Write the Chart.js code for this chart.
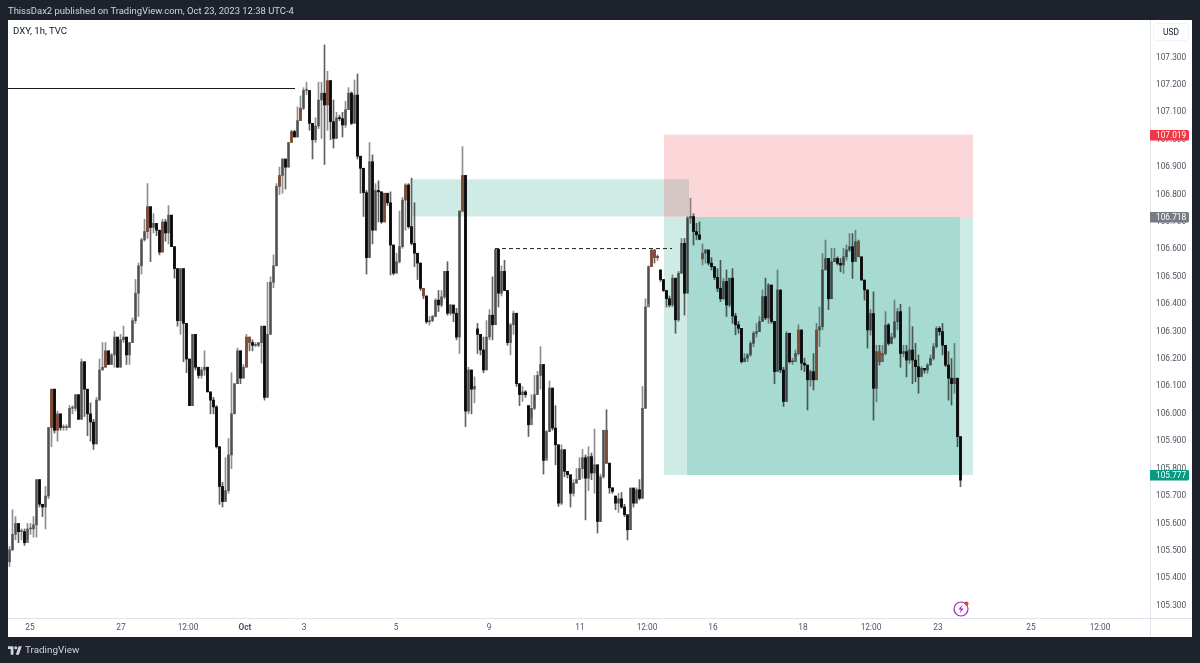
<!DOCTYPE html>
<html><head><meta charset="utf-8">
<style>
html,body{margin:0;padding:0;background:#1e222d;width:1200px;height:663px;overflow:hidden}
#pane{position:absolute;left:8px;top:20px;width:1184px;height:617px;background:#fff}
canvas{position:absolute;left:0;top:0}
.t{position:absolute;font-family:Roboto,sans-serif;white-space:nowrap}
#head{left:8px;top:5px;font-size:9.45px;line-height:12px;color:#d1d4dc}
#legend{left:13px;top:25px;font-size:9.6px;line-height:12px;color:#131722}
#usd{left:1153px;top:23px;width:36px;height:18px;border:1px solid #f0f3fa;border-radius:3px;box-sizing:border-box;text-align:center;font-size:8.4px;line-height:16px;color:#131722}
#brand{left:25px;top:643px;font-size:9.9px;line-height:14px;color:#d1d4dc}
svg{position:absolute}
</style></head><body>
<div id="pane"></div>
<canvas id="c" width="1200" height="663"></canvas>
<div class="t" id="head">ThissDax2 published on TradingView.com, Oct 23, 2023 12:38 UTC-4</div>
<div class="t" id="legend">DXY, 1h, TVC</div>
<div class="t" id="usd">USD</div>
<svg style="left:8px;top:646px" width="14" height="9" viewBox="0 0 36 22"><path fill="#d1d4dc" d="M14 22H7V7H0V0h14v22zM28 22h-8L27.500 0h8L28 22z"/><circle fill="#d1d4dc" cx="20" cy="4" r="4"/></svg>
<div class="t" id="brand">TradingView</div>
<svg style="left:952px;top:599px" width="20" height="20" viewBox="0 0 20 20"><circle cx="9" cy="10" r="7" fill="none" stroke="#9c27b0" stroke-width="1.2"/><path d="M10.500 5.500 6.500 10.500h2.500l-1.500 4 4-5H9z" fill="#9c27b0"/><circle cx="14.500" cy="4.500" r="2" fill="#f23645"/></svg>
<script src="https://cdn.jsdelivr.net/npm/chart.js@4/dist/chart.umd.js"></script>
<script>
const highs=[105.516,105.65,105.625,105.58,105.58,105.58,105.60,105.60,105.625,105.76,
105.76,105.67,105.735,105.95,106.09,106.09,106.01,106.00,105.96,105.96,
106.03,106.03,106.07,106.07,106.20,106.19,106.09,106.04,105.98,106.06,
106.20,106.26,106.26,106.23,106.22,106.30,106.28,106.29,106.32,106.28,
106.26,106.35,106.49,106.55,106.64,106.71,106.84,106.756,106.73,106.68,
106.67,106.71,106.71,106.76,106.725,106.61,106.53,106.53,106.53,106.33,
106.20,106.29,106.29,106.17,106.17,106.23,106.17,106.08,106.06,106.03,
105.88,105.75,105.84,105.91,106.15,106.11,106.24,106.23,106.18,106.29,
106.28,106.27,106.26,106.26,106.32,106.32,106.48,106.50,106.58,106.84,
106.90,106.93,106.91,106.99,107.035,107.035,107.12,107.16,107.19,107.21,
107.18,107.06,107.08,107.21,107.21,107.346,107.25,107.216,107.145,107.10,
107.09,107.10,107.14,107.19,107.175,107.218,107.24,106.94,106.896,106.815,
106.99,106.945,106.84,106.85,106.81,106.805,106.78,106.81,106.616,106.586,
106.74,106.79,106.84,106.84,106.86,106.77,106.586,106.55,106.458,106.43,
106.355,106.36,106.42,106.45,106.45,106.52,106.555,106.40,106.397,106.385,
106.74,106.975,106.87,106.17,106.16,106.135,106.33,106.29,106.28,106.34,
106.38,106.50,106.60,106.60,106.54,106.56,106.45,106.33,106.375,106.367,
106.11,106.10,106.085,106.03,106.07,106.14,106.155,106.245,106.18,105.94,
106.12,106.094,106.03,105.887,105.887,105.87,105.79,105.77,105.76,105.80,
105.84,105.87,105.85,105.88,105.857,105.944,105.814,105.78,105.94,106.015,
105.82,105.73,105.70,105.71,105.713,105.67,105.632,105.73,105.73,105.73,
105.76,106.10,106.42,106.54,106.604,106.60,106.58,106.525,106.49,106.45,
106.43,106.507,106.495,106.52,106.64,106.64,106.72,106.787,106.73,106.695,
106.70,106.62,106.60,106.598,106.57,106.537,106.53,106.56,106.495,106.525,
106.495,106.53,106.367,106.337,106.312,106.22,106.22,106.263,106.30,106.33,
106.355,106.452,106.495,106.476,106.47,106.337,106.525,106.452,106.17,106.30,
106.294,106.203,106.233,106.325,106.306,106.203,106.178,106.16,106.22,106.33,
106.39,106.585,106.634,106.567,106.604,106.604,106.573,106.567,106.604,106.616,
106.658,106.658,106.67,106.634,106.573,106.488,106.452,106.38,106.445,106.25,
106.25,106.25,106.373,106.33,106.294,106.415,106.385,106.40,106.25,106.25,
106.39,106.318,106.257,106.215,106.172,106.166,106.184,106.215,106.257,106.318,
106.318,106.33,106.25,106.227,106.202,106.257,106.13,105.917];
const lows=[105.443,105.50,105.54,105.53,105.54,105.52,105.54,105.56,105.55,105.55,
105.66,105.625,105.58,105.69,105.88,105.93,105.90,105.94,105.94,105.94,
105.95,106.00,106.01,105.98,105.98,105.99,105.92,105.90,105.87,105.89,
106.05,106.16,106.17,106.18,106.18,106.17,106.17,106.17,106.26,106.18,
106.18,106.26,106.33,106.355,106.51,106.63,106.64,106.555,106.66,106.65,
106.58,106.59,106.63,106.62,106.61,106.495,106.32,106.29,106.19,106.15,
106.03,106.03,106.16,106.13,106.13,106.14,106.08,106.00,106.00,105.875,
105.67,105.66,105.68,105.71,105.80,106.00,106.11,106.11,106.13,106.18,
106.23,106.23,106.245,106.245,106.185,106.05,106.06,106.29,106.46,106.54,
106.80,106.805,106.82,106.90,107.005,107.01,107.01,107.08,107.11,107.165,
107.035,106.93,106.99,107.04,107.005,106.91,107.035,107.00,106.97,107.005,
107.07,107.01,107.045,107.11,107.055,107.06,106.93,106.805,106.72,106.51,
106.57,106.62,106.67,106.70,106.695,106.70,106.76,106.507,106.507,106.513,
106.55,106.604,106.67,106.677,106.616,106.537,106.49,106.45,106.42,106.33,
106.324,106.336,106.355,106.373,106.39,106.42,106.36,106.36,106.336,106.27,
106.22,106.737,105.953,106.00,106.00,106.04,106.22,106.215,106.15,106.16,
106.27,106.27,106.325,106.39,106.43,106.45,106.25,106.215,106.29,106.10,
106.03,106.045,106.06,105.917,105.985,106.015,106.07,106.09,105.78,105.84,
105.935,105.94,105.814,105.662,105.668,105.77,105.766,105.66,105.70,105.747,
105.76,105.765,105.613,105.72,105.76,105.71,105.565,105.607,105.765,105.818,
105.71,105.71,105.65,105.64,105.655,105.625,105.54,105.577,105.66,105.674,
105.686,105.69,106.02,106.403,106.537,106.55,106.56,106.483,106.446,106.39,
106.39,106.39,106.294,106.337,106.513,106.36,106.44,106.695,106.616,106.635,
106.635,106.543,106.55,106.543,106.525,106.49,106.446,106.41,106.416,106.355,
106.39,106.33,106.288,106.294,106.185,106.19,106.19,106.21,106.245,106.28,
106.30,106.337,106.343,106.33,106.33,106.11,106.154,106.15,106.027,106.045,
106.185,106.18,106.21,106.215,106.16,106.154,106.014,106.10,106.087,106.124,
106.245,106.306,106.525,106.38,106.42,106.555,106.543,106.518,106.512,106.56,
106.592,106.494,106.56,106.573,106.488,106.415,106.24,106.287,105.977,106.044,
106.178,106.215,106.215,106.25,106.255,106.275,106.306,106.17,106.208,106.135,
106.184,106.11,106.117,106.075,106.14,106.148,106.148,106.178,106.196,106.24,
106.287,106.215,106.172,106.05,106.032,106.075,105.88,105.734];
const closes=[105.504,105.56,105.60,105.57,105.57,105.53,105.58,105.58,105.595,105.76,
105.67,105.66,105.70,105.95,106.09,105.94,106.00,105.95,105.95,105.95,
106.02,106.02,106.07,105.98,106.19,106.09,106.00,105.97,105.89,106.05,
106.16,106.17,106.23,106.18,106.215,106.28,106.17,106.27,106.28,106.215,
106.26,106.34,106.44,106.54,106.635,106.665,106.756,106.68,106.695,106.67,
106.59,106.70,106.66,106.725,106.61,106.53,106.34,106.53,106.33,106.20,
106.03,106.29,106.17,106.14,106.16,106.17,106.08,106.05,106.025,105.88,
105.735,105.68,105.72,105.85,106.00,106.11,106.23,106.13,106.17,106.28,
106.26,106.25,106.25,106.26,106.32,106.06,106.29,106.48,106.54,106.83,
106.87,106.93,106.90,106.99,107.03,107.01,107.07,107.115,107.18,107.18,
107.06,107.00,107.05,107.145,107.17,107.127,107.216,107.066,107.005,107.08,
107.077,107.054,107.11,107.17,107.06,107.163,106.94,106.896,106.807,106.57,
106.92,106.67,106.815,106.81,106.70,106.805,106.77,106.616,106.513,106.555,
106.61,106.78,106.835,106.683,106.622,106.586,106.55,106.458,106.43,106.336,
106.34,106.355,106.415,106.397,106.427,106.52,106.367,106.397,106.367,106.28,
106.74,106.87,106.01,106.16,106.09,106.10,106.29,106.233,106.16,106.28,
106.36,106.325,106.60,106.44,106.52,106.45,106.26,106.325,106.367,106.11,
106.07,106.08,106.07,105.96,106.02,106.07,106.14,106.18,105.83,105.935,
106.094,105.948,105.887,105.674,105.869,105.79,105.778,105.71,105.747,105.76,
105.80,105.84,105.765,105.844,105.784,105.814,105.607,105.77,105.94,105.82,
105.73,105.717,105.674,105.69,105.66,105.632,105.577,105.729,105.674,105.723,
105.692,106.02,106.39,106.537,106.597,106.57,106.575,106.49,106.45,106.42,
106.397,106.495,106.343,106.513,106.622,106.44,106.714,106.72,106.665,106.653,
106.637,106.586,106.598,106.55,106.537,106.498,106.458,106.42,106.483,106.397,
106.495,106.357,106.325,106.312,106.19,106.203,106.215,106.257,106.294,106.30,
106.337,106.428,106.35,106.47,106.337,106.154,106.452,106.16,106.045,106.294,
106.19,106.19,106.22,106.306,106.185,106.178,106.124,106.154,106.124,106.306,
106.318,106.525,106.567,106.42,106.555,106.567,106.549,106.543,106.573,106.598,
106.61,106.555,106.628,106.573,106.488,106.452,106.306,106.366,106.093,106.227,
106.19,106.22,106.324,106.257,106.28,106.336,106.373,106.22,106.227,106.196,
106.233,106.196,106.172,106.135,106.166,106.16,106.178,106.202,106.245,106.312,
106.30,106.25,106.178,106.13,106.11,106.13,105.917,105.758];
const brownBars=[14,16,32,46,51,79,80,90,94,97,106,125,132,138,151,199,214,215,216,231,263,269,283,290];
const gapBars=[0,156,173,202,217,231];
const gapOpens=[105.46,106.31,106.03,105.70,106.525,106.565];

const tickBars=[6.83,37.17,59.5,78.5,98.17,128.83,159.83,190.17,212.5,234.5,264.5,287.17,309.5,340.5,363.5];
const tickLabels=["25","27","12:00","Oct","3","5","9","11","12:00","16","18","12:00","23","25","12:00"];
const priceTicks=[105.3,105.4,105.5,105.6,105.7,105.8,105.9,106.0,106.1,106.2,106.3,106.4,106.5,106.6,106.7,106.8,106.9,107.0,107.1,107.2,107.3];

const supplyBox=[134.17,226.5,106.856,106.72];
const stopBox=[218.17,321.17,107.019,106.718];
const targetBox=[218.17,321.17,106.718,105.777];
const targetInner=[225.83,316.83,106.718,105.777];
const highLine=[[-0.5,107.187],[95.17,107.187]];
const dashLine=[[161.83,106.603],[220.83,106.603]];
const priceTags=[[107.019,"#f23645"],[106.718,"#787b86"],[105.777,"#089981"]];

const opens=closes.map((c,i)=>{const g=gapBars.indexOf(i);return g>=0?gapOpens[g]:closes[i-1];});
const isBrown=i=>brownBars.includes(i);
const bodyColor=(i)=>isBrown(i)?"#7d4a35":(closes[i]<opens[i]?"#0b0b0b":"rgba(40,40,40,.62)");
const wickColor=(i)=>closes[i]<opens[i]?"rgba(30,30,30,.7)":"rgba(50,50,50,.55)";

const BORDER="#e0e3eb",TEXT="#50535e",FONT="Roboto, sans-serif";

const overlay={
 id:"overlay",
 beforeDatasetsDraw(ch){
  const {ctx,scales:{x,y}}=ch;
  const box=(b,col)=>{ctx.fillStyle=col;const x0=x.getPixelForValue(b[0]),x1=x.getPixelForValue(b[1]),y0=y.getPixelForValue(b[2]),y1=y.getPixelForValue(b[3]);ctx.fillRect(x0,y0,x1-x0,y1-y0);};
  ctx.save();
  box(supplyBox,"rgba(8,153,129,.2)");
  box(targetBox,"rgba(8,153,129,.2)");
  box(targetInner,"rgba(8,153,129,.2)");
  box(stopBox,"rgba(242,54,69,.2)");
  ctx.restore();
 },
 afterDraw(ch){
  const {ctx,scales:{y},chartArea:a}=ch;
  ctx.save();
  ctx.strokeStyle=BORDER;ctx.lineWidth=1;
  ctx.beginPath();ctx.moveTo(a.right+.5,a.bottom);ctx.lineTo(a.right+.5,637);ctx.moveTo(a.right,a.bottom+.5);ctx.lineTo(1192,a.bottom+.5);ctx.stroke();
  ctx.font="8.3px "+FONT;ctx.textBaseline="middle";ctx.textAlign="left";
  priceTags.forEach(([v,col])=>{
   const py=Math.round(y.getPixelForValue(v));
   ctx.fillStyle=col;ctx.beginPath();ctx.roundRect(a.right,py-5,39,10.500,[0,1.500,1.500,0]);ctx.fill();
   ctx.fillStyle="#fff";ctx.fillText(v.toFixed(3),1156,py+.5);
  });
  ctx.restore();
 }
};

new Chart(document.getElementById("c"),{
 data:{datasets:[
  {type:"line",data:highLine.map(p=>({x:p[0],y:p[1]})),borderColor:"#1a1c24",borderWidth:1,pointRadius:0,order:3},
  {type:"line",data:dashLine.map(p=>({x:p[0],y:p[1]})),borderColor:"#222",borderWidth:1,borderDash:[4,3],pointRadius:0,order:3},
  {type:"bar",data:closes.map((c,i)=>({x:i,y:[lows[i],highs[i]]})),backgroundColor:closes.map((c,i)=>wickColor(i)),barThickness:1,grouped:false,order:2},
  {type:"bar",data:closes.map((c,i)=>({x:i,y:[opens[i],c]})),backgroundColor:closes.map((c,i)=>bodyColor(i)),barThickness:2.2,minBarLength:1,grouped:false,order:1}
 ]},
 options:{
  responsive:false,animation:false,events:[],
  layout:{padding:{left:8,top:20,right:8,bottom:26}},
  plugins:{legend:{display:false},tooltip:{enabled:false},title:{display:false}},
  scales:{
   x:{type:"linear",offset:false,min:-0.5,max:380.17,
    grid:{display:false,drawTicks:false},border:{color:BORDER},
    afterBuildTicks(s){s.ticks=tickBars.map(v=>({value:v}));},
    afterFit(s){s.height=19;},
    ticks:{autoSkip:false,maxRotation:0,padding:5,color:TEXT,
     font:c=>({family:FONT,size:8.3,weight:(c.tick&&tickLabels[tickBars.indexOf(c.tick.value)]==="Oct")?"700":"400"}),
     callback:v=>tickLabels[tickBars.indexOf(v)]}},
   y:{type:"linear",position:"right",min:105.255,max:107.437,
    grid:{display:false,drawTicks:false},border:{color:BORDER},
    afterBuildTicks(s){s.ticks=priceTicks.map(v=>({value:v}));},
    afterFit(s){s.width=42;},
    ticks:{autoSkip:false,padding:6,color:TEXT,font:{family:FONT,size:8.3},callback:v=>v.toFixed(3)}}
  }
 },
 plugins:[overlay]
});
</script>
</body></html>
